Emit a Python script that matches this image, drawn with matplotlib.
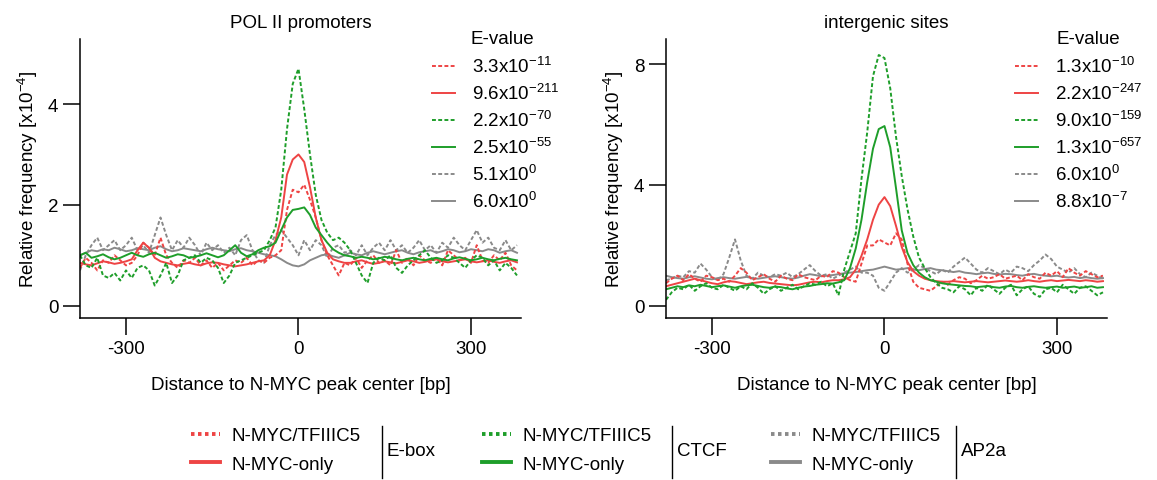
import numpy as np
import matplotlib
matplotlib.use('Agg')
import matplotlib.pyplot as plt
from matplotlib.lines import Line2D

plt.rcParams['font.family'] = ['Liberation Sans', 'DejaVu Sans']
plt.rcParams['mathtext.fontset'] = 'custom'
plt.rcParams['mathtext.rm'] = 'Liberation Sans'
plt.rcParams['mathtext.it'] = 'Liberation Sans:italic'
plt.rcParams['mathtext.bf'] = 'Liberation Sans:bold'
plt.rcParams['mathtext.default'] = 'regular'

# ---------------- data (relative frequency, x1e-4) ----------------
distance = np.arange(-380, 381, 10)

# POL II promoters
pol_ebox_tf = [0.75, 0.95, 0.85, 0.70, 0.90, 0.85, 1.00, 0.90, 0.80, 0.85,
               1.00, 1.25, 1.15, 1.00, 1.35, 1.00, 0.85, 0.75, 0.90, 0.85,
               0.95, 0.80, 0.90, 0.75, 0.85, 0.70, 0.80, 0.90, 0.85, 0.95,
               0.80, 0.90, 0.85, 0.95, 1.00, 1.10, 1.90, 2.30, 2.25, 2.40,
               2.10, 1.75, 1.30, 1.00, 0.80, 0.60, 0.85, 0.80, 0.95, 0.75,
               0.90, 1.00, 0.85, 0.90, 0.80, 1.10, 0.85, 0.95, 0.80, 1.00,
               0.90, 0.85, 0.95, 0.80, 1.10, 1.00, 0.90, 0.95, 0.85, 1.20,
               0.90, 0.85, 1.00, 0.90, 1.05, 0.80, 0.70]
pol_ebox_only = [0.85, 0.82, 0.80, 0.84, 0.88, 0.86, 0.83, 0.85, 0.88, 0.92,
                 1.10, 1.25, 1.15, 0.95, 0.88, 0.85, 0.82, 0.80, 0.83, 0.85,
                 0.82, 0.80, 0.84, 0.86, 0.85, 0.82, 0.80, 0.78, 0.80, 0.82,
                 0.85, 0.88, 0.90, 1.00, 1.30, 1.75, 2.60, 2.90, 3.00, 2.85,
                 2.35, 1.75, 1.30, 1.05, 0.92, 0.88, 0.85, 0.85, 0.88, 0.90,
                 0.86, 0.83, 0.85, 0.88, 0.86, 0.84, 0.87, 0.90, 0.88, 0.85,
                 0.87, 0.90, 0.92, 0.88, 0.86, 0.88, 0.90, 0.92, 0.88, 0.86,
                 0.88, 0.90, 0.87, 0.85, 0.88, 0.90, 0.86]
pol_ctcf_tf = [1.00, 0.80, 0.75, 0.95, 0.60, 0.55, 0.65, 0.50, 0.70, 0.55,
               0.75, 0.80, 0.70, 0.40, 0.60, 0.85, 0.45, 0.60, 0.90, 0.95,
               1.00, 0.85, 0.95, 0.90, 0.75, 0.45, 0.60, 0.85, 0.90, 0.95,
               1.00, 1.05, 1.10, 1.30, 1.55, 2.30, 3.50, 4.40, 4.70, 3.90,
               3.00, 2.20, 1.70, 1.45, 1.30, 1.35, 1.25, 1.10, 0.85, 0.60,
               0.45, 0.85, 0.95, 0.90, 1.00, 0.75, 0.65, 0.80, 0.90, 1.00,
               1.10, 0.95, 0.85, 0.90, 1.00, 0.95, 0.85, 0.75, 0.90, 1.00,
               0.95, 0.80, 0.90, 0.70, 0.85, 0.75, 0.60]
pol_ctcf_only = [1.00, 1.05, 0.95, 0.98, 1.02, 0.96, 0.92, 0.95, 1.00, 1.05,
                 1.00, 0.97, 1.02, 1.05, 1.00, 0.95, 0.98, 1.02, 1.00, 0.95,
                 0.97, 1.00, 1.04, 1.00, 0.96, 1.00, 1.10, 1.20, 1.05, 0.98,
                 1.02, 1.10, 1.15, 1.18, 1.25, 1.50, 1.75, 1.90, 1.92, 1.95,
                 1.80, 1.55, 1.40, 1.25, 1.12, 1.05, 1.00, 0.98, 0.95, 0.97,
                 0.95, 0.92, 0.94, 0.97, 0.95, 0.92, 0.90, 0.93, 0.95, 0.92,
                 0.90, 0.93, 0.95, 0.92, 0.90, 0.94, 0.96, 0.93, 0.90, 0.92,
                 0.95, 0.92, 0.90, 0.93, 0.95, 0.92, 0.90]
pol_ap2_tf = [0.70, 1.00, 1.20, 1.35, 1.10, 1.20, 1.30, 1.10, 1.20, 1.35,
              1.10, 1.20, 1.05, 1.40, 1.75, 1.40, 1.10, 1.30, 1.15, 1.35,
              1.20, 1.00, 1.25, 1.10, 1.20, 1.05, 1.15, 1.00, 1.30, 1.40,
              1.10, 0.90, 0.85, 1.20, 1.40, 1.50, 1.35, 1.20, 1.00, 1.30,
              1.10, 1.30, 1.20, 0.95, 1.15, 1.20, 1.05, 1.10, 1.00, 1.20,
              1.00, 1.15, 1.25, 1.10, 1.30, 1.10, 1.20, 1.05, 1.15, 1.30,
              1.10, 1.20, 1.05, 1.25, 1.15, 1.35, 1.20, 1.10, 1.30, 1.50,
              1.25, 1.35, 1.15, 1.10, 1.30, 1.10, 1.20]
pol_ap2_only = [1.00, 1.05, 1.10, 1.08, 1.12, 1.10, 1.15, 1.12, 1.08, 1.10,
                1.14, 1.12, 1.10, 1.15, 1.18, 1.12, 1.08, 1.10, 1.14, 1.12,
                1.10, 1.08, 1.12, 1.15, 1.12, 1.10, 1.08, 1.12, 1.14, 1.10,
                1.08, 1.05, 1.02, 1.00, 0.98, 0.92, 0.85, 0.80, 0.78, 0.82,
                0.90, 0.95, 1.00, 1.02, 0.98, 0.95, 1.00, 1.05, 1.02, 1.00,
                1.05, 1.08, 1.05, 1.02, 1.05, 1.08, 1.10, 1.05, 1.02, 1.06,
                1.08, 1.10, 1.05, 1.08, 1.12, 1.10, 1.06, 1.08, 1.12, 1.10,
                1.08, 1.12, 1.10, 1.05, 1.08, 1.10, 1.05]

# intergenic sites
int_ebox_tf = [0.75, 0.90, 1.00, 0.85, 1.05, 0.90, 0.80, 1.00, 0.95, 0.85,
               0.90, 0.80, 1.00, 1.25, 1.10, 0.85, 0.95, 1.05, 0.90, 0.80,
               1.00, 0.90, 0.85, 1.05, 0.95, 0.90, 0.85, 1.00, 0.95, 1.15,
               1.10, 0.95, 0.85, 0.80, 1.40, 2.00, 2.00, 2.20, 2.10, 2.00,
               2.40, 2.20, 1.40, 0.80, 0.60, 0.55, 0.50, 0.65, 0.80, 0.70,
               0.85, 0.95, 0.90, 0.75, 0.85, 1.00, 0.90, 0.95, 1.05, 0.90,
               0.95, 1.00, 0.85, 1.05, 0.95, 0.90, 1.10, 1.00, 1.15, 0.95,
               1.25, 1.10, 1.00, 1.15, 1.05, 0.95, 1.00]
int_ebox_only = [0.65, 0.70, 0.75, 0.80, 0.85, 0.90, 0.85, 0.80, 0.75, 0.72,
                 0.78, 0.82, 0.80, 0.76, 0.72, 0.75, 0.78, 0.80, 0.76, 0.74,
                 0.72, 0.70, 0.68, 0.70, 0.74, 0.78, 0.80, 0.78, 0.82, 0.85,
                 0.85, 0.88, 0.95, 1.20, 1.66, 2.20, 2.85, 3.35, 3.60, 3.30,
                 2.65, 1.95, 1.45, 1.15, 1.00, 0.90, 0.85, 0.82, 0.80, 0.80,
                 0.82, 0.80, 0.78, 0.80, 0.82, 0.80, 0.78, 0.80, 0.82, 0.84,
                 0.82, 0.80, 0.82, 0.85, 0.82, 0.80, 0.83, 0.85, 0.82, 0.84,
                 0.86, 0.84, 0.82, 0.85, 0.83, 0.80, 0.82]
int_ctcf_tf = [0.20, 0.45, 0.60, 0.55, 0.70, 0.50, 0.65, 0.75, 0.60, 0.55,
               0.70, 0.60, 0.50, 0.65, 0.55, 0.75, 0.60, 0.40, 0.55, 0.65,
               0.50, 0.60, 0.70, 0.55, 0.65, 0.75, 0.70, 0.80, 0.65, 0.75,
               0.35, 1.20, 1.80, 2.40, 4.20, 5.75, 7.60, 8.30, 8.20, 7.20,
               5.60, 4.30, 3.20, 2.30, 1.60, 1.25, 0.95, 0.75, 0.60, 0.55,
               0.45, 0.65, 0.55, 0.35, 0.60, 0.50, 0.70, 0.55, 0.40, 0.60,
               0.70, 0.35, 0.55, 0.65, 0.40, 0.30, 0.55, 0.60, 0.45, 0.70,
               0.55, 0.40, 0.60, 0.65, 0.50, 0.35, 0.45]
int_ctcf_only = [0.55, 0.60, 0.65, 0.62, 0.68, 0.65, 0.70, 0.66, 0.62, 0.65,
                 0.68, 0.64, 0.60, 0.65, 0.68, 0.70, 0.66, 0.62, 0.60, 0.64,
                 0.62, 0.58, 0.55, 0.60, 0.64, 0.66, 0.70, 0.72, 0.75, 0.74,
                 0.78, 0.85, 1.25, 1.90, 2.85, 4.10, 5.20, 5.85, 5.95, 5.25,
                 3.90, 2.50, 1.75, 1.35, 1.10, 0.95, 0.85, 0.80, 0.75, 0.72,
                 0.70, 0.68, 0.66, 0.65, 0.62, 0.64, 0.66, 0.62, 0.60, 0.64,
                 0.66, 0.62, 0.60, 0.63, 0.65, 0.62, 0.60, 0.62, 0.64, 0.60,
                 0.62, 0.64, 0.60, 0.62, 0.65, 0.60, 0.62]
int_ap2_tf = [0.85, 0.90, 1.00, 0.95, 1.15, 1.10, 1.40, 1.20, 0.95, 0.85,
              1.05, 1.60, 2.20, 1.50, 1.00, 0.90, 1.10, 1.00, 0.95, 1.05,
              1.00, 1.10, 0.95, 1.05, 1.20, 1.35, 1.15, 1.00, 1.05, 0.90,
              1.00, 1.10, 1.20, 1.30, 1.10, 1.10, 1.00, 0.60, 0.50, 0.80,
              1.10, 1.25, 1.10, 1.20, 1.35, 1.25, 1.15, 1.05, 1.20, 1.10,
              1.30, 1.45, 1.60, 1.40, 1.20, 1.10, 1.25, 1.15, 1.05, 1.20,
              1.10, 1.30, 1.25, 1.15, 1.35, 1.50, 1.70, 1.55, 1.30, 1.20,
              1.10, 1.25, 1.05, 0.95, 1.10, 1.00, 0.90]
int_ap2_only = [1.00, 0.95, 0.92, 0.90, 0.95, 0.98, 0.94, 0.90, 0.88, 0.92,
                0.95, 0.92, 0.90, 0.93, 0.96, 0.92, 0.90, 0.93, 0.96, 0.98,
                0.95, 0.92, 0.90, 0.94, 1.00, 1.05, 1.02, 0.98, 1.00, 1.02,
                1.05, 1.08, 1.10, 1.12, 1.15, 1.18, 1.20, 1.25, 1.30, 1.25,
                1.20, 1.22, 1.25, 1.20, 1.18, 1.22, 1.25, 1.20, 1.18, 1.15,
                1.12, 1.15, 1.10, 1.08, 1.05, 1.08, 1.10, 1.06, 1.04, 1.06,
                1.05, 1.02, 1.00, 1.04, 1.06, 1.02, 1.00, 0.98, 1.00, 0.96,
                0.94, 0.96, 0.92, 0.95, 0.92, 0.90, 0.92]

pol_evalues = ['3.3x10$^{-11}$', '9.6x10$^{-211}$', '2.2x10$^{-70}$',
               '2.5x10$^{-55}$', '5.1x10$^{0}$', '6.0x10$^{0}$']
int_evalues = ['1.3x10$^{-10}$', '2.2x10$^{-247}$', '9.0x10$^{-159}$',
               '1.3x10$^{-657}$', '6.0x10$^{0}$', '8.8x10$^{-7}$']

motifs = ['E-box', 'CTCF', 'AP2a']
groups = ['N-MYC/TFIIIC5', 'N-MYC-only']

# ---------------- style ----------------
RED = '#EE4444'
GREEN = '#1E9E2A'
GRAY = '#8A8A8A'
COLORS = [RED, RED, GREEN, GREEN, GRAY, GRAY]
DASH = (0, (2.0, 1.2))
STYLES = [DASH, '-', DASH, '-', DASH, '-']
FS = 13.5
W, H = 1157, 481

fig = plt.figure(figsize=(W / 100, H / 100), dpi=100)

def px_axes(x0, y0, x1, y1):
    return fig.add_axes([x0 / W, 1 - y1 / H, (x1 - x0) / W, (y1 - y0) / H])

ax1 = px_axes(80, 40, 521, 319)
ax2 = px_axes(666, 40, 1107, 319)

def draw(ax, series, labels, ylim, yticks, title, leg_x, evx):
    order = [4, 5, 0, 1, 2, 3]
    handles = [None] * 6
    for i in order:
        ln, = ax.plot(distance, series[i], color=COLORS[i], ls=STYLES[i],
                      lw=1.4, label=labels[i])
        handles[i] = ln
    ax.set_xlim(-380, 387)
    ax.set_ylim(*ylim)
    ax.set_xticks([-300, 0, 300])
    ax.set_xticklabels(['-300', '0', '300'])
    ax.set_yticks(yticks)
    for s in ['top', 'right']:
        ax.spines[s].set_visible(False)
    for s in ['left', 'bottom']:
        ax.spines[s].set_linewidth(1.1)
    ax.tick_params(direction='out', length=12.5, width=1.1, labelsize=FS, pad=3)
    ax.set_xlabel('Distance to N-MYC peak center [bp]', fontsize=FS, labelpad=14)
    ax.set_ylabel(r'Relative frequency [x10$^{-4}$]', fontsize=FS, labelpad=6)
    ax.set_title(title, fontsize=FS, pad=9)
    fig.legend(handles=handles, labels=labels, loc='upper left',
               bbox_to_anchor=(leg_x / W, 1 - 57 / H), frameon=False,
               fontsize=FS, handlelength=1.25, handletextpad=0.9,
               labelspacing=0.37, borderpad=0, borderaxespad=0)
    fig.text(evx / W, 1 - 39 / H, 'E-value', fontsize=FS, ha='left', va='center')

draw(ax1, [pol_ebox_tf, pol_ebox_only, pol_ctcf_tf, pol_ctcf_only, pol_ap2_tf, pol_ap2_only],
     pol_evalues, (-0.244, 5.29), [0, 2, 4], 'POL II promoters', 432, 470)
draw(ax2, [int_ebox_tf, int_ebox_only, int_ctcf_tf, int_ctcf_only, int_ap2_tf, int_ap2_only],
     int_evalues, (-0.40, 8.83), [0, 4, 8], 'intergenic sites', 1015, 1056)

# ---------------- bottom legend ----------------
group_x = [191, 482, 771]
bar_x = [382, 672, 956]
gcols = [RED, GREEN, GRAY]
for k in range(3):
    hs = [Line2D([], [], color=gcols[k], lw=2.8, ls=(0, (0.9, 0.9))),
          Line2D([], [], color=gcols[k], lw=2.8, ls='-')]
    fig.legend(handles=hs, labels=groups, loc='upper left',
               bbox_to_anchor=(group_x[k] / W, 1 - 428 / H), frameon=False,
               fontsize=FS, handlelength=1.55, handletextpad=0.6,
               labelspacing=0.6, borderpad=0, borderaxespad=0)
    fig.add_artist(Line2D([bar_x[k] / W, bar_x[k] / W], [1 - 427 / H, 1 - 479 / H],
                          color='black', lw=1.0, transform=fig.transFigure))
    fig.text((bar_x[k] + 5) / W, 1 - 452 / H, motifs[k], fontsize=FS,
             ha='left', va='center')

fig.savefig('out.png', dpi=100)
